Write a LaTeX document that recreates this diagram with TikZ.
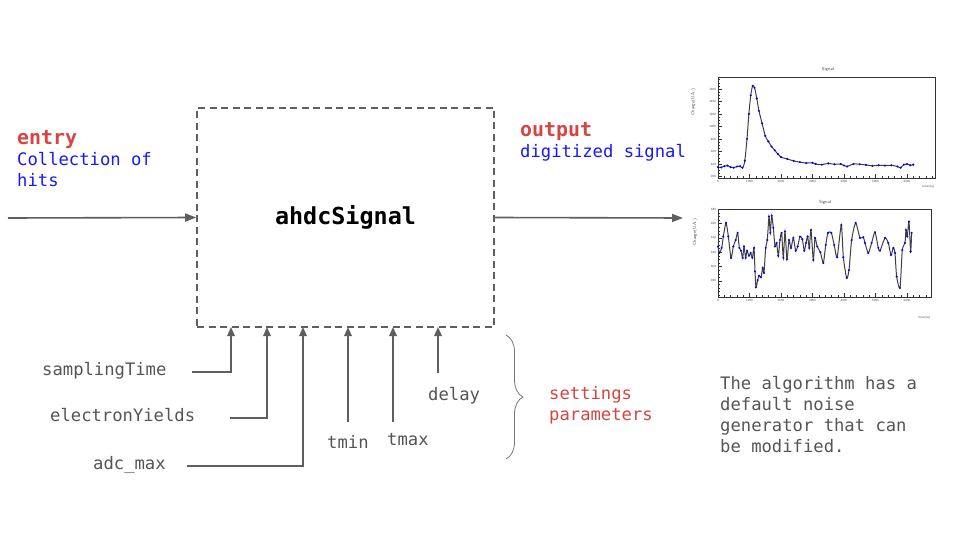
\documentclass[tikz,border=0pt]{standalone}
\usepackage{fontspec}
\setmonofont{DejaVu Sans Mono}
\usetikzlibrary{positioning,arrows.meta,decorations.pathreplacing}
\definecolor{entryred}{RGB}{214,69,65}
\definecolor{hitblue}{RGB}{25,25,245}
\definecolor{notegray}{RGB}{85,85,85}
\definecolor{wiregray}{RGB}{95,95,95}
\newcommand{\tickfont}{\fontsize{3.2}{3.6}\selectfont\sffamily}

\begin{document}
\begin{tikzpicture}[x=1pt, y=-1pt,
blockbox/.style={draw=wiregray, line width=1.6pt, dash pattern=on 7pt off 4.5pt, minimum width=297pt, minimum height=219pt, font=\fontsize{23.4}{28}\selectfont\ttfamily\bfseries},
wire/.style={draw=wiregray, line width=1.6pt, -{Triangle[length=11pt,width=8pt]}},
paramwire/.style={draw=wiregray, line width=1.6pt, -{Triangle[length=9pt,width=7.5pt]}},
paramtext/.style={anchor=base west, inner sep=0pt, text=notegray, font=\fontsize{17.2}{20.8}\selectfont\ttfamily},
titletext/.style={anchor=base west, inner sep=0pt, text=entryred, font=\fontsize{19.9}{24}\selectfont\ttfamily\bfseries},
plotframe/.style={draw=black!80, line width=0.7pt},
axistick/.style={draw=black!80, line width=0.3pt},
ticklabel/.style={inner sep=0.5pt, text=black!70, font=\tickfont},
plottitle/.style={inner sep=0pt, text=black!70, font=\fontsize{4.5}{5}\selectfont\sffamily},
trace/.style={draw=black!75, line width=1pt, mark=*, mark size=0.45pt, mark options={draw=blue, fill=blue}}
]
    \fill[white] (0,0) rectangle (960,540);
    \useasboundingbox (0,0) rectangle (960,540);

    %Nodes
    \node[blockbox] (sig) at (345.5,217.5) {ahdcSignal};
    \node[titletext] (entry) at (17,145) {entry};
    \node[paramtext, text=hitblue, align=left] (hits) at (17,186.5) {Collection of\\hits};
    \node[titletext] (output) at (520,137) {output};
    \node[paramtext, text=hitblue] (digi) at (520,158) {digitized signal};

    \node[paramtext] (st) at (42,375) {samplingTime};
    \node[paramtext] (ey) at (50,421) {electronYields};
    \node[paramtext] (am) at (93,469) {adc\_max};
    \node[paramtext] (tmin) at (327,448) {tmin};
    \node[paramtext] (tmax) at (387,445) {tmax};
    \node[paramtext] (dl) at (428,400) {delay};

    \node[paramtext, text=entryred, align=left] (settings) at (549,420.5) {settings\\parameters};
    \node[paramtext, align=left] (note) at (720,452) {The algorithm has a\\default noise\\generator that can\\be modified.};

    %Coordinates
    \coordinate (in) at (8,218);
    \coordinate (out) at (683,218);
    \foreach \n/\x in {p1/231,p2/267,p3/303,p4/348,p5/393,p6/438}
        \coordinate (\n) at (\x,327);
    \coordinate (s1) at (192,372);
    \coordinate (s2) at (230,418);
    \coordinate (s3) at (187,466);
    \coordinate (s4) at (348,422);
    \coordinate (s5) at (393,422);
    \coordinate (s6) at (438,373);

    %Lines
    \draw[wire] (in) -- (sig.west);
    \draw[wire] (sig.east) -- (out);
    \draw[paramwire] (s1) -| (p1);
    \draw[paramwire] (s2) -| (p2);
    \draw[paramwire] (s3) -| (p3);
    \draw[paramwire] (s4) -- (p4);
    \draw[paramwire] (s5) -- (p5);
    \draw[paramwire] (s6) -- (p6);
    \draw[decorate, decoration={brace, amplitude=17pt}, draw=notegray!80, line width=0.8pt]
        (506,335) -- (506,459);

    %Top plot
    \begin{scope}[xshift=718pt, yshift=-189pt, x=0.0315pt, y=0.0625pt]
        \draw[plotframe] (0,176) rectangle (6890,1792);
        \foreach \v in {250,300,...,1750} \draw[axistick] (0,\v) -- ++(2pt,0pt);
        \foreach \v in {200,400,...,1600} {
            \draw[axistick] (0,\v) -- ++(4pt,0pt);
            \node[ticklabel, anchor=east] at (-40,\v) {\v};
        }
        \foreach \t in {200,400,...,6800} \draw[axistick] (\t,176) -- ++(0pt,2pt);
        \foreach \t in {0,1000,...,6000} {
            \draw[axistick] (\t,176) -- ++(0pt,4pt);
            \node[ticklabel, anchor=north] at (\t,150) {\t};
        }
        \draw[trace] plot[smooth, tension=0.5] coordinates {
            (0,350) (100,345) (200,365) (300,375) (400,350) (500,340) (600,360) (700,365)
            (780,340) (850,450) (920,800) (980,1200) (1040,1500) (1100,1650) (1160,1620)
            (1230,1450) (1300,1250) (1400,1050) (1500,850) (1600,760) (1700,680) (1800,620)
            (1900,560) (2000,510) (2200,480) (2400,450) (2600,430) (2800,415) (3000,420)
            (3100,400) (3300,390) (3500,410) (3700,395) (3900,400) (4000,375) (4100,360)
            (4300,400) (4500,395) (4700,385) (4900,370) (5100,380) (5300,375) (5500,380)
            (5700,360) (5800,340) (5900,390) (6000,400) (6100,380) (6200,390)};
        \node[plottitle] (toptitle) at (3490,1920) {Signal};
        \node[ticklabel, anchor=east] (toptime) at (6890,32) {time(ns)};
        \node[plottitle, rotate=90] (topcharge) at (-790,1390) {Charge(U.A.)};
    \end{scope}

    %Bottom plot
    \begin{scope}[xshift=718pt, yshift=-481pt, x=0.0315pt, y=0.715pt]
        \draw[plotframe] (0,257) rectangle (6762,380);
        \foreach \v in {260,265,...,375} \draw[axistick] (0,\v) -- ++(2pt,0pt);
        \foreach \v in {280,300,...,380} {
            \draw[axistick] (0,\v) -- ++(4pt,0pt);
            \node[ticklabel, anchor=east] at (-40,\v) {\v};
        }
        \foreach \t in {200,400,...,6600} \draw[axistick] (\t,257) -- ++(0pt,2pt);
        \foreach \t in {0,1000,...,6000} {
            \draw[axistick] (\t,257) -- ++(0pt,4pt);
            \node[ticklabel, anchor=north] at (\t,255) {\t};
        }
        \draw[trace] plot[smooth, tension=0.4] coordinates {
            (0,328) (42,319) (116,326) (169,342) (254,361) (328,342) (413,312) (487,328)
            (561,337) (624,347) (677,326) (730,322) (783,312) (825,328) (878,312) (920,322)
            (984,315) (1037,319) (1090,312) (1143,326) (1175,293) (1206,271) (1259,281)
            (1302,287) (1365,285) (1418,298) (1460,291) (1513,326) (1566,337) (1619,370)
            (1661,347) (1704,371) (1757,354) (1810,328) (1862,333) (1915,315) (1968,337)
            (2021,347) (2074,312) (2127,349) (2190,310) (2254,337) (2317,326) (2392,340)
            (2466,322) (2529,328) (2603,342) (2677,338) (2740,322) (2794,333) (2846,342)
            (2899,326) (2952,351) (3026,309) (3079,340) (3150,328) (3250,320) (3344,305)
            (3420,330) (3492,347) (3598,347) (3690,330) (3783,313) (3915,358) (3979,313)
            (4085,284) (4159,295) (4243,337) (4370,361) (4508,340) (4614,341) (4667,333)
            (4772,319) (4878,333) (4984,348) (5090,326) (5143,322) (5302,340) (5407,333)
            (5492,316) (5566,326) (5619,319) (5672,286) (5778,270) (5852,323) (5937,333)
            (5968,351) (6010,342) (6063,363) (6116,321) (6148,347)};
        \node[plottitle] (bottitle) at (3400,390) {Signal};
        \node[ticklabel, anchor=east] (bottime) at (6762,228) {time(ns)};
        \node[plottitle, rotate=90] (botcharge) at (-730,348) {Charge(U.A.)};
    \end{scope}
\end{tikzpicture}
\end{document}
